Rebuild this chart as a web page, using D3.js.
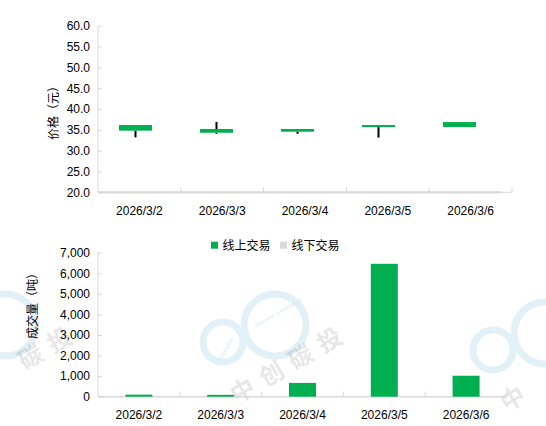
<!DOCTYPE html>
<html><head><meta charset="utf-8">
<script src="https://cdn.jsdelivr.net/npm/d3@7"></script>
<style>
html,body{margin:0;padding:0;background:#fff;}
text{font-family:"Liberation Sans",Arial,"Noto Sans CJK SC",sans-serif;}
.cjk{font-family:"Noto Sans CJK SC",sans-serif;}
</style></head>
<body>
<svg id="c" width="546" height="426"></svg>
<script>
const dates = ["2026/3/2","2026/3/3","2026/3/4","2026/3/5","2026/3/6"];
const open  = [36.15, 35.2, 35.2, 36.15, 36.87];
const close = [34.8, 34.3, 34.55, 35.67, 35.67];
const low   = [33.2, 34.05, 34.05, 33.15, 35.67];
const high  = [36.15, 36.9, 35.2, 36.15, 36.87];
const priceTicks = [20,25,30,35,40,45,50,55,60];
const onlineVol  = [100, 90, 670, 6460, 1020];
const offlineVol = [0, 0, 0, 0, 0];
const volTicks = [0,1000,2000,3000,4000,5000,6000,7000];
const seriesNames = ["线上交易","线下交易"];
const colors = ["#00B050","#D9D9D9"];

const svg = d3.select("#c");
const axisCol = "#D9D9D9";

// ---------- watermarks ----------
const wm = svg.append("g");
const wmChars = ["中","创","碳","投"];
[[-47,342],[223,342],[493,350]].forEach(([x,y])=>{
  const g = wm.append("g");
  g.append("circle").attr("cx",x).attr("cy",y).attr("r",20).attr("fill","none").attr("stroke","#e2f0f8").attr("stroke-width",7);
  g.append("circle").attr("cx",x+52).attr("cy",y-17).attr("r",31).attr("fill","none").attr("stroke","#e2f0f8").attr("stroke-width",7);
  if (x > 0 && x < 300) {
    g.append("text").attr("transform",`translate(${x+4},${y+8}) rotate(-60)`).attr("font-size",5).attr("fill","#d6eaf5").attr("text-anchor","middle").text("SinoCarbon");
    g.append("text").attr("transform",`translate(${x+56},${y-28}) rotate(-30)`).attr("font-size",5).attr("fill","#d6eaf5").attr("text-anchor","middle").text("Innovation & Investment");
  }
  wmChars.forEach((ch,k)=>{
    const cx = x+24+k*29, cy = y+48-k*16.8;
    if (cx < 25 || cx > 525) return;
    g.append("text").attr("class","cjk").attr("transform",`translate(${cx},${cy+8}) rotate(-30)`)
      .attr("font-size",24).attr("font-weight","bold").attr("fill","#000").attr("opacity",0.09)
      .attr("text-anchor","middle").text(ch);
  });
});

// ---------- top: candlestick ----------
const yP = d3.scaleLinear().domain([20,60]).range([192.3,25.7]);
const xCatTop = d3.scaleBand().domain(dates).range([98,512]);
const xCandle = d3.scaleBand().domain(dates).range([95,500]);

const topG = svg.append("g");
const yAxTop = topG.append("g").attr("transform","translate(98,0)")
  .call(d3.axisLeft(yP).tickValues(priceTicks).tickFormat(d3.format(".1f")).tickSize(-4).tickPadding(8));
yAxTop.select(".domain").attr("stroke",axisCol).attr("d",`M0,${yP(20)}V${yP(60)}`);
yAxTop.selectAll(".tick line").attr("stroke",axisCol);
yAxTop.selectAll(".tick text").attr("font-size",12).attr("fill","#000").attr("font-family","Liberation Sans,Arial");
const xAxTop = topG.append("g").attr("transform",`translate(0,${yP(20)})`)
  .call(d3.axisBottom(xCatTop).tickSize(0).tickPadding(14));
xAxTop.select(".domain").remove();
xAxTop.selectAll(".tick text").attr("font-size",12).attr("fill","#000").attr("font-family","Liberation Sans,Arial");
topG.append("line").attr("x1",98).attr("x2",512).attr("y1",yP(20)).attr("y2",yP(20)).attr("stroke",axisCol).attr("stroke-width",1);
topG.append("line").attr("x1",98).attr("x2",501).attr("y1",yP(20)).attr("y2",yP(20)).attr("stroke",axisCol).attr("stroke-width",2.2);
topG.selectAll(".sepT").data(dates).enter().append("line")
  .attr("x1",d=>xCatTop(d)+xCatTop.bandwidth()).attr("x2",d=>xCatTop(d)+xCatTop.bandwidth())
  .attr("y1",yP(20)).attr("y2",yP(20)-5).attr("stroke",axisCol);
const cw = 33;
dates.forEach((d,i)=>{
  const cx = xCandle(d)+xCandle.bandwidth()/2;
  const t = Math.max(open[i],close[i]), b = Math.min(open[i],close[i]);
  if (high[i] > t) topG.append("line").attr("x1",cx).attr("x2",cx).attr("y1",yP(high[i])).attr("y2",yP(t)).attr("stroke","#000").attr("stroke-width",2);
  if (low[i] < b) topG.append("line").attr("x1",cx).attr("x2",cx).attr("y1",yP(b)).attr("y2",yP(low[i])).attr("stroke","#000").attr("stroke-width",2);
  topG.append("rect").attr("x",cx-cw/2).attr("width",cw).attr("y",yP(t)).attr("height",Math.max(yP(b)-yP(t),1.5)).attr("fill",colors[0]);
});
topG.append("text").attr("class","cjk").attr("transform","translate(57.5,110) rotate(-90)")
  .attr("text-anchor","middle").attr("font-size",12).attr("fill","#000").text("价格（元）");

// ---------- bottom: volume bars ----------
const yV = d3.scaleLinear().domain([0,7000]).range([396.7,252.7]);
const xV = d3.scaleBand().domain(dates).range([98,507]);
const bot = svg.append("g");
const yAxBot = bot.append("g").attr("transform","translate(98,0)")
  .call(d3.axisLeft(yV).tickValues(volTicks).tickFormat(d3.format(",")).tickSize(-4).tickPadding(8));
yAxBot.select(".domain").attr("stroke",axisCol).attr("d",`M0,${yV(0)}V${yV(7000)}`);
yAxBot.selectAll(".tick line").attr("stroke",axisCol);
yAxBot.selectAll(".tick text").attr("font-size",12).attr("fill","#000").attr("font-family","Liberation Sans,Arial");
const xAxBot = bot.append("g").attr("transform",`translate(0,${yV(0)})`)
  .call(d3.axisBottom(xV).tickSize(0).tickPadding(14));
xAxBot.select(".domain").remove();
xAxBot.selectAll(".tick text").attr("font-size",12).attr("fill","#000").attr("font-family","Liberation Sans,Arial");
bot.append("line").attr("x1",98).attr("x2",507).attr("y1",yV(0)).attr("y2",yV(0)).attr("stroke",axisCol).attr("stroke-width",1.6);
bot.selectAll(".sepB").data(dates).enter().append("line")
  .attr("x1",d=>xV(d)+xV.bandwidth()).attr("x2",d=>xV(d)+xV.bandwidth())
  .attr("y1",yV(0)).attr("y2",yV(0)-5).attr("stroke",axisCol);
const bw = 27;
const stackData = dates.map((d,i)=>({date:d, on:onlineVol[i], off:offlineVol[i]}));
const stacked = d3.stack().keys(["on","off"])(stackData);
stacked.forEach((s,k)=>{
  bot.selectAll(".bar"+k).data(s).enter().append("rect")
    .attr("x",d=>xV(d.data.date)+xV.bandwidth()/2-bw/2).attr("width",bw)
    .attr("y",d=>yV(d[1])).attr("height",d=>Math.max(0,yV(d[0])-yV(d[1])))
    .attr("fill",colors[k]);
});
bot.append("text").attr("class","cjk").attr("transform","translate(36.5,303) rotate(-90)")
  .attr("text-anchor","middle").attr("font-size",12).attr("fill","#000").text("成交量（吨）");
const legX = [211,280];
seriesNames.forEach((n,i)=>{
  bot.append("rect").attr("x",legX[i]).attr("y",241.7).attr("width",7).attr("height",7).attr("fill",colors[i]);
  bot.append("text").attr("class","cjk").attr("x",legX[i]+11.5).attr("y",249.5).attr("font-size",12).attr("fill","#000").text(n);
});
</script>
</body></html>
